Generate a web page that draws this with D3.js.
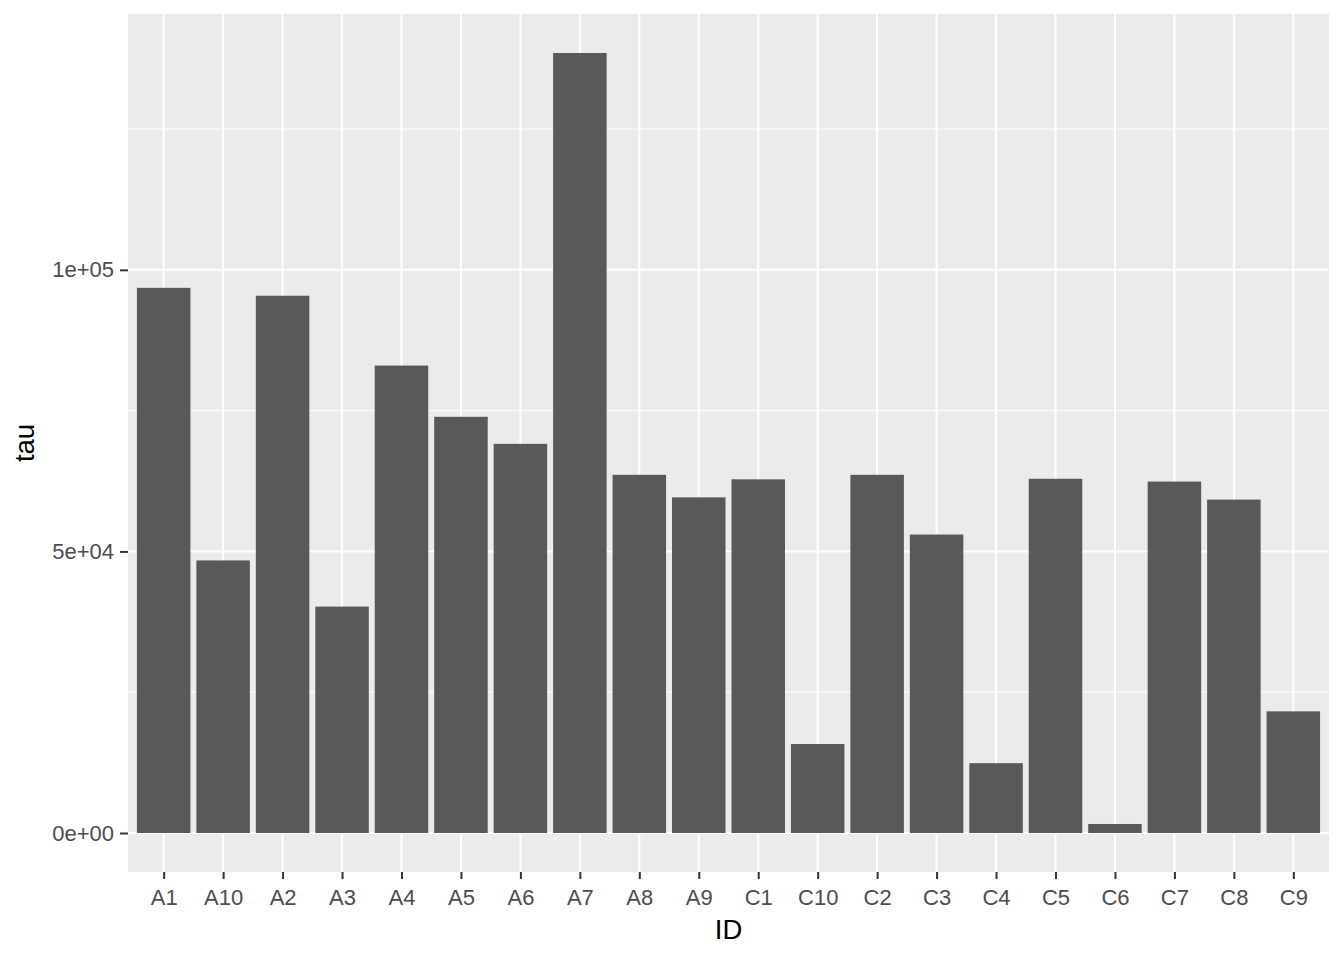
<!DOCTYPE html>
<html>
<head>
  <meta charset="utf-8">
  <title>tau by ID</title>
  <script src="https://d3js.org/d3.v7.min.js"></script>
</head>
<style>
  body {
    margin: 0;
    background: #fff;
    font-family: "Liberation Sans", Arial, sans-serif;
  }
  .axis text {
    font-size: 22px;
    fill: #4d4d4d;
  }
  .axis line {
    stroke: #333;
    stroke-width: 2;
  }
  .axis .domain {
    display: none;
  }
  .title {
    font-size: 27.5px;
    fill: #000;
  }
</style>
<body>
  <svg id="chart"></svg>
  <script>
    // data
    const ids = ["A1", "A10", "A2", "A3", "A4", "A5", "A6", "A7", "A8", "A9",
                 "C1", "C10", "C2", "C3", "C4", "C5", "C6", "C7", "C8", "C9"];
    const tau = [96800, 48400, 95400, 40200, 83000, 73900, 69100, 138500, 63600, 59600,
                 62800, 15800, 63600, 53000, 12400, 62900, 1600, 62400, 59200, 21600];
    const yTicks = [0, 50000, 100000];
    const yMinor = [25000, 75000, 125000];
    const yTickLabels = ["0e+00", "5e+04", "1e+05"];

    const W = 1344, H = 960;
    const margin = { top: 14, right: 15, bottom: 88, left: 128 };
    const width = W - margin.left - margin.right;
    const height = H - margin.top - margin.bottom;

    const svg = d3.select("#chart")
      .attr("width", W)
      .attr("height", H)
      .append("g")
      .attr("transform", "translate(" + margin.left + "," + margin.top + ")");

    // ggplot-like discrete scale: 0.6 unit expansion each side, bar width 0.9
    const n = ids.length;
    const unit = width / (n - 1 + 1.2);
    const x = d3.scalePoint()
      .domain(ids)
      .range([0.6 * unit, width - 0.6 * unit]);
    const barW = 0.9 * unit;

    const maxV = d3.max(tau);
    const y = d3.scaleLinear()
      .domain([-0.05 * maxV, 1.05 * maxV])
      .range([height, 0]);

    // panel
    svg.append("rect")
      .attr("width", width)
      .attr("height", height)
      .attr("fill", "#ebebeb");

    // minor grid
    svg.selectAll(".minor")
      .data(yMinor)
      .enter().append("line")
      .attr("x1", 0).attr("x2", width)
      .attr("y1", d => y(d)).attr("y2", d => y(d))
      .attr("stroke", "#fff")
      .attr("stroke-width", 1);

    // major grid
    svg.selectAll(".hmajor")
      .data(yTicks)
      .enter().append("line")
      .attr("x1", 0).attr("x2", width)
      .attr("y1", d => y(d)).attr("y2", d => y(d))
      .attr("stroke", "#fff")
      .attr("stroke-width", 2);
    svg.selectAll(".vmajor")
      .data(ids)
      .enter().append("line")
      .attr("x1", d => x(d)).attr("x2", d => x(d))
      .attr("y1", 0).attr("y2", height)
      .attr("stroke", "#fff")
      .attr("stroke-width", 2);

    // bars
    svg.selectAll(".bar")
      .data(ids)
      .enter().append("rect")
      .attr("class", "bar")
      .attr("x", d => x(d) - barW / 2)
      .attr("width", barW)
      .attr("y", (d, i) => y(tau[i]))
      .attr("height", (d, i) => y(0) - y(tau[i]))
      .attr("fill", "#595959");

    // axes
    const xAxis = d3.axisBottom(x).tickSize(7).tickPadding(10);
    svg.append("g")
      .attr("class", "axis")
      .attr("transform", "translate(0," + height + ")")
      .call(xAxis)
      .selectAll("text")
      .attr("dy", "0.71em");

    const yAxis = d3.axisLeft(y)
      .tickValues(yTicks)
      .tickFormat((d, i) => yTickLabels[i])
      .tickSize(8)
      .tickPadding(6);
    svg.append("g")
      .attr("class", "axis")
      .call(yAxis);

    // axis titles
    svg.append("text")
      .attr("class", "title")
      .attr("x", width / 2)
      .attr("y", height + 67)
      .attr("text-anchor", "middle")
      .text("ID");

    svg.append("text")
      .attr("class", "title")
      .attr("transform", "translate(" + (34 - margin.left) + "," + (height / 2) + ") rotate(-90)")
      .attr("text-anchor", "middle")
      .text("tau");
  </script>
</body>
</html>
